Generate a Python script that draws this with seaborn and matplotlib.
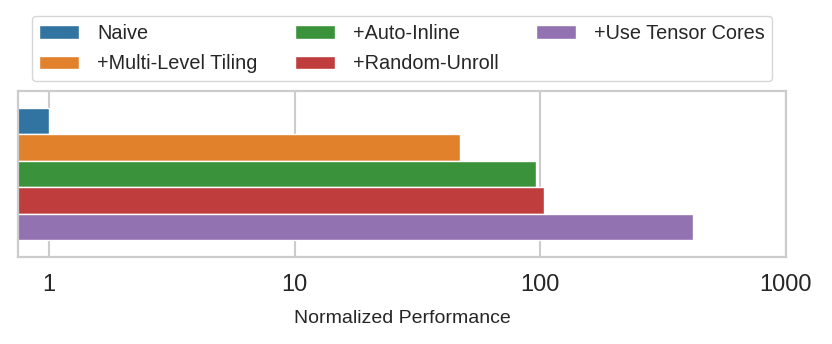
import pandas as pd
import matplotlib.pyplot as plt
import seaborn as sns
from matplotlib.ticker import NullLocator

# Données
methods = ["Naive", "+Multi-Level Tiling", "+Auto-Inline", "+Random-Unroll", "+Use Tensor Cores"]
perf = [1.0, 47, 96, 104, 420]
xticks = [1, 10, 100, 1000]
xtick_labels = ["1", "10", "100", "1000"]

df = pd.DataFrame({"group": [""] * len(methods), "method": methods, "perf": perf})

sns.set_style("whitegrid")
plt.rcParams["font.family"] = ["Liberation Sans", "DejaVu Sans"]

fig, ax = plt.subplots(figsize=(8.32, 3.44), dpi=100)
fig.subplots_adjust(left=0.0216, right=0.9447, top=0.7355, bottom=0.2529)

sns.barplot(data=df, y="group", x="perf", hue="method", orient="h", ax=ax, linewidth=1)

ax.set_xscale("log")
ax.set_xlim(0.748, 1000)
ax.set_xticks(xticks)
ax.set_xticklabels(xtick_labels, fontsize=17, color="#262626")
ax.xaxis.set_minor_locator(NullLocator())
ax.tick_params(axis="x", pad=9)
ax.set_yticks([])
ax.set_ylabel("")
ax.set_xlabel("Normalized Performance", fontsize=14, color="#262626", labelpad=10)
ax.grid(axis="x", color="#cccccc", linewidth=1.5)
ax.grid(axis="y", visible=False)
for s in ax.spines.values():
    s.set_color("#cccccc")
    s.set_linewidth(1.6)

sns.move_legend(ax, "lower center", bbox_to_anchor=(0.5, 1.06), ncol=3,
                title=None, frameon=True, fontsize=14.3, borderpad=0.38,
                handletextpad=0.9, labelspacing=0.6, columnspacing=1.9,
                borderaxespad=0)

plt.savefig("out.png", dpi=100)
